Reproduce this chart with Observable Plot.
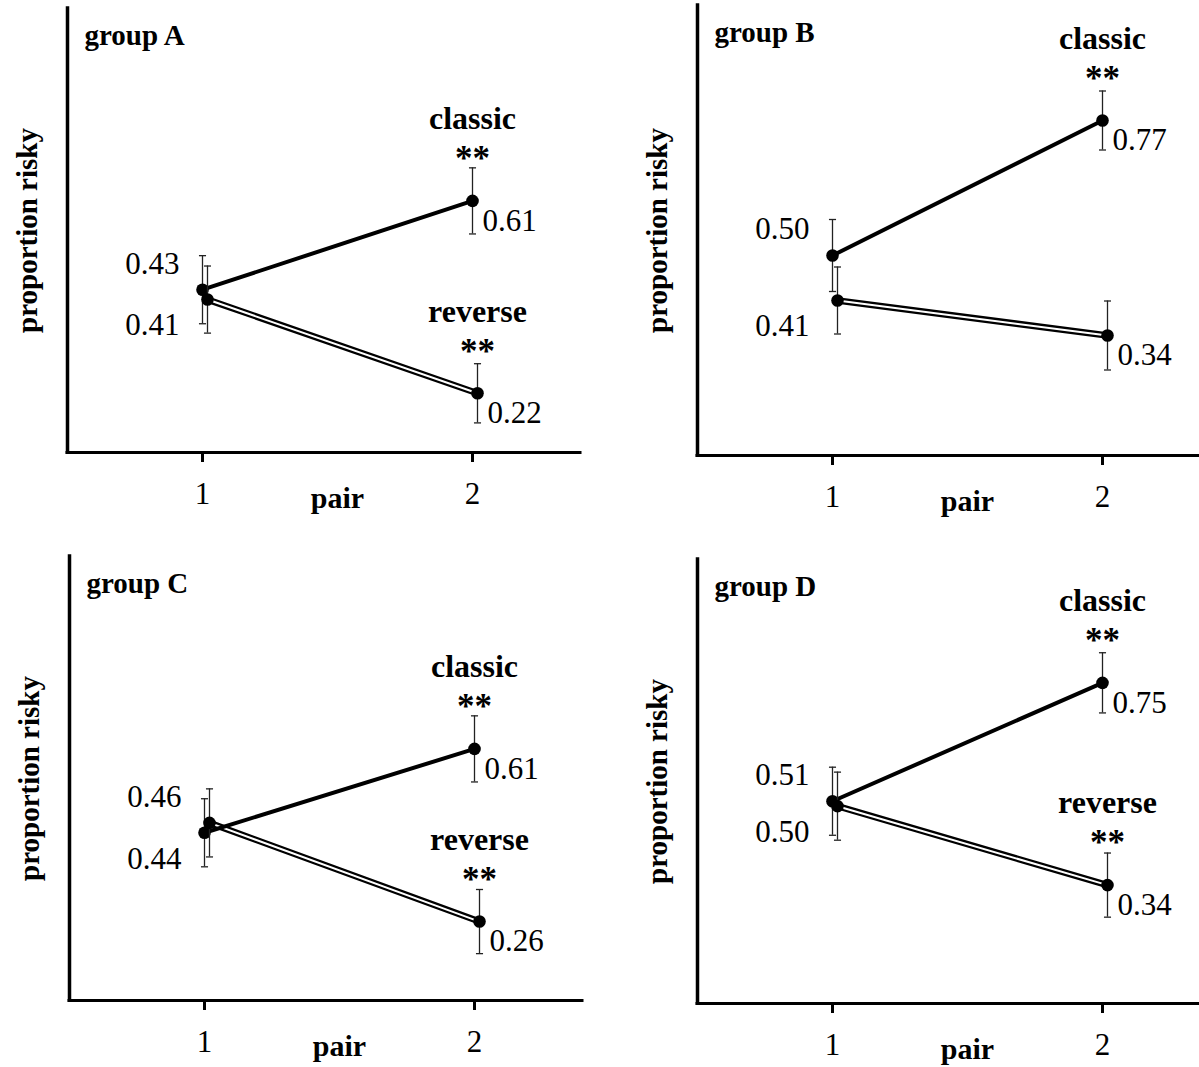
<!DOCTYPE html>
<html>
<head>
<meta charset="utf-8">
<script src="https://cdn.jsdelivr.net/npm/d3@7"></script>
<script src="https://cdn.jsdelivr.net/npm/@observablehq/plot@0.6"></script>
<style>
html, body { margin: 0; padding: 0; background: #fff; }
#wrap { position: relative; width: 1199px; height: 1067px; overflow: hidden; background: #fff; }
.panel { position: absolute; }
</style>
</head>
<body>
<div id="wrap"></div>
<script>
// ---------- data ----------
const groups = ["group A", "group B", "group C", "group D"];
const seriesNames = ["classic", "reverse"];
const pairs = [1, 2];
const classicValues = [[0.43, 0.61], [0.50, 0.77], [0.44, 0.61], [0.51, 0.75]];
const reverseValues = [[0.41, 0.22], [0.41, 0.34], [0.46, 0.26], [0.50, 0.34]];
const classicErrors = [[0.069, 0.067], [0.072, 0.059], [0.069, 0.067], [0.069, 0.061]];
const reverseErrors = [[0.068, 0.060], [0.067, 0.069], [0.069, 0.065], [0.069, 0.065]];
const classicStars = ["**", "**", "**", "**"];
const reverseStars = ["**", "", "**", "**"];
const xLabel = "pair";
const yLabel = "proportion risky";
const xDomain = [0.5, 2.4];
const yDomain = [0.1, 1.0];

// ---------- layout ----------
const layouts = [
  {left: 0,   top: 0,   width: 600, height: 540, mL: 67, mT: 8,  mB: 88},
  {left: 600, top: 0,   width: 620, height: 540, mL: 97, mT: 5,  mB: 85},
  {left: 0,   top: 533, width: 600, height: 534, mL: 69, mT: 23, mB: 67},
  {left: 600, top: 533, width: 620, height: 534, mL: 97, mT: 26, mB: 64}
];
const innerW = 513;
const serifR = "Liberation Serif, 'Times New Roman', serif";
const offsets = {classic: 0, reverse: 5};

const capSymbol = {
  draw(ctx, size) {
    const w = Math.sqrt(size) / 2;
    ctx.moveTo(-w, 0);
    ctx.lineTo(w, 0);
  }
};

function buildRows(i) {
  const rows = [];
  seriesNames.forEach((s, si) => {
    const vals = si === 0 ? classicValues[i] : reverseValues[i];
    const errs = si === 0 ? classicErrors[i] : reverseErrors[i];
    const stars = si === 0 ? classicStars[i] : reverseStars[i];
    pairs.forEach((p, j) => rows.push({
      series: s, pair: p, value: vals[j],
      lo: vals[j] - errs[j], hi: vals[j] + errs[j],
      label: vals[j].toFixed(2),
      stars: j === pairs.length - 1 ? stars : ""
    }));
  });
  return rows;
}

function makePanel(i) {
  const L = layouts[i];
  const rows = buildRows(i);
  const first = rows.filter(d => d.pair === pairs[0]).sort((a, b) => b.value - a.value);
  const upper = first[0], lower = first[1];
  const last = rows.filter(d => d.pair === pairs[pairs.length - 1]);

  const marks = [
    Plot.ruleY([yDomain[0]], {stroke: "black", strokeWidth: 3, strokeLinecap: "square"}),
    Plot.ruleX([xDomain[0]], {stroke: "black", strokeWidth: 3.5, strokeLinecap: "square"}),
    Plot.axisX({ticks: pairs, tickFormat: d => String(d), tickSize: 10, strokeWidth: 3,
      tickPadding: 19, fontSize: 31, fontFamily: serifR, label: null})
  ];

  // reverse double line, then classic line
  const rev = rows.filter(d => d.series === "reverse");
  const cla = rows.filter(d => d.series === "classic");
  marks.push(
    Plot.line(rev, {x: "pair", y: "value", stroke: "black", strokeWidth: 6.5, dx: offsets.reverse}),
    Plot.line(rev, {x: "pair", y: "value", stroke: "white", strokeWidth: 2, dx: offsets.reverse}),
    Plot.line(cla, {x: "pair", y: "value", stroke: "black", strokeWidth: 4, dx: offsets.classic})
  );

  for (const s of seriesNames) {
    const d = rows.filter(r => r.series === s);
    const dx = offsets[s];
    marks.push(
      Plot.ruleX(d, {x: "pair", y1: "lo", y2: "hi", stroke: "#222", strokeWidth: 1.3, dx}),
      Plot.dot(d, {x: "pair", y: "lo", symbol: capSymbol, r: 4, stroke: "#222", strokeWidth: 1.3, fill: "none", dx}),
      Plot.dot(d, {x: "pair", y: "hi", symbol: capSymbol, r: 4, stroke: "#222", strokeWidth: 1.3, fill: "none", dx}),
      Plot.dot(d, {x: "pair", y: "value", r: 6.3, fill: "black", stroke: "none", dx})
    );
    const endRow = last.filter(r => r.series === s);
    marks.push(
      Plot.text(endRow, {x: "pair", y: "value", text: "label", textAnchor: "start", lineAnchor: "middle",
        dx: dx + 10, dy: 20, fontSize: 31, fontFamily: serifR, fill: "black"})
    );
    const sig = endRow.filter(r => r.stars !== "");
    marks.push(
      Plot.text(sig, {x: "pair", y: "value", text: "series", textAnchor: "middle", lineAnchor: "middle",
        dx, dy: -82, fontSize: 32, fontWeight: "bold", fontFamily: serifR, fill: "black"}),
      Plot.text(sig, {x: "pair", y: "value", text: "stars", textAnchor: "middle", lineAnchor: "middle",
        dx, dy: -42, fontSize: 35, fontWeight: "bold", fontFamily: serifR, fill: "black"})
    );
  }

  marks.push(
    Plot.text([upper], {x: "pair", y: "value", text: "label", textAnchor: "end", lineAnchor: "middle",
      dx: -23, dy: -26, fontSize: 31, fontFamily: serifR, fill: "black"}),
    Plot.text([lower], {x: "pair", y: "value", text: "label", textAnchor: "end", lineAnchor: "middle",
      dx: -23, dy: 26, fontSize: 31, fontFamily: serifR, fill: "black"}),
    Plot.text([groups[i]], {frameAnchor: "top-left", text: d => d, textAnchor: "start", lineAnchor: "middle",
      dx: 17, dy: 27, fontSize: 29, fontWeight: "bold", fontFamily: serifR, fill: "black"}),
    Plot.text([yLabel], {frameAnchor: "left", text: d => d, rotate: -90, textAnchor: "middle", lineAnchor: "middle",
      dx: -40, fontSize: 29, fontWeight: "bold", fontFamily: serifR, fill: "black"}),
    Plot.text([xLabel], {x: d3.mean(pairs), y: yDomain[0], text: d => d, textAnchor: "middle", lineAnchor: "middle",
      dy: 46, fontSize: 30, fontWeight: "bold", fontFamily: serifR, fill: "black"})
  );

  const chart = Plot.plot({
    width: L.width,
    height: L.height,
    marginLeft: L.mL,
    marginTop: L.mT,
    marginBottom: L.mB,
    marginRight: L.width - L.mL - innerW,
    x: {domain: xDomain, axis: null},
    y: {domain: yDomain, axis: null},
    style: {background: "transparent", fontFamily: serifR, overflow: "visible", color: "black"},
    marks
  });
  chart.classList.add("panel");
  chart.style.left = L.left + "px";
  chart.style.top = L.top + "px";
  return chart;
}

const wrap = document.getElementById("wrap");
groups.forEach((g, i) => wrap.appendChild(makePanel(i)));
</script>
</body>
</html>
